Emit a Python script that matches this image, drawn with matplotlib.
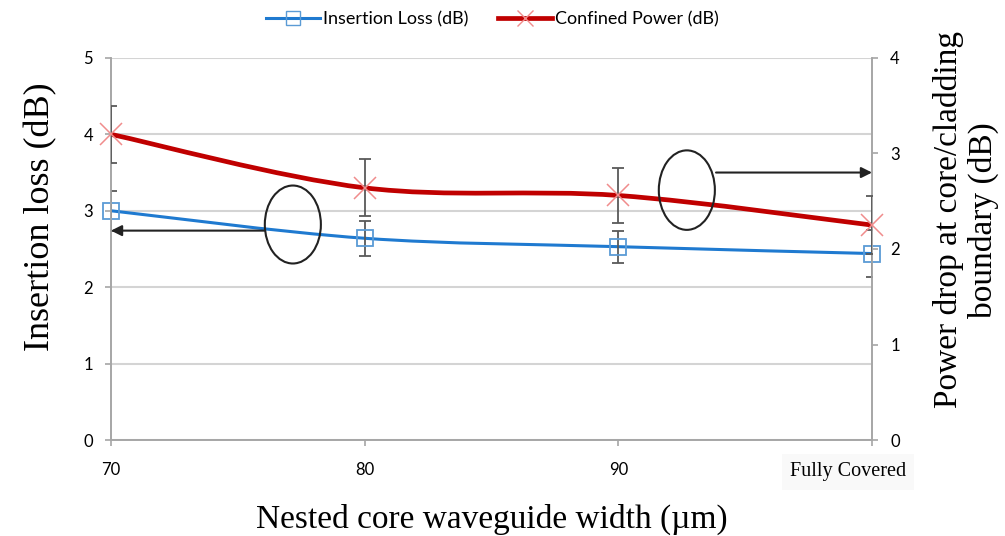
import matplotlib.pyplot as plt
import numpy as np
from matplotlib.path import Path
from matplotlib.patches import PathPatch, Ellipse
from matplotlib.lines import Line2D
import matplotlib.transforms as mtransforms

# Data
categories = ['70', '80', '90', 'Fully Covered']
insertion_loss = [3.0, 2.64, 2.53, 2.44]       # left axis (dB)
insertion_err = [0.26, 0.23, 0.21, 0.31]
confined_power = [3.2, 2.64, 2.56, 2.25]       # right axis (dB)
confined_err = [0.30, 0.30, 0.29, 0.30]

BLUE = '#1f7ad0'
BLUE_MK = '#5b9bd5'
RED = '#c00000'
RED_MK = '#f08c8c'
GRID = '#d4d4d4'
SPINE = '#a6a6a6'
ERR = '#595959'


def smooth_path(x, y):
    # Excel style smoothed line: cubic bezier through every point
    pts = np.column_stack([x, y]).astype(float)
    n = len(pts)
    verts = [pts[0]]
    codes = [Path.MOVETO]
    for i in range(n - 1):
        p0 = pts[max(i - 1, 0)]
        p1 = pts[i]
        p2 = pts[i + 1]
        p3 = pts[min(i + 2, n - 1)]
        verts += [p1 + (p2 - p0) / 6, p2 - (p3 - p1) / 6, p2]
        codes += [Path.CURVE4] * 3
    return Path(verts, codes)


x = np.arange(len(categories))

fig = plt.figure(figsize=(10.05, 5.36), dpi=100)
ax = fig.add_axes([0.1104, 0.179, 0.7573, 0.713])
ax2 = ax.twinx()

ax.set_xlim(0, 3)
ax.set_ylim(0, 5)
ax2.set_ylim(0, 4)

ax.set_yticks(range(6))
ax2.set_yticks(range(5))
ax.set_xticks(x)
ax.set_xticklabels(categories)

ax.grid(axis='y', color=GRID, lw=1.5)
ax.set_axisbelow(True)
for a in (ax, ax2):
    for s in a.spines.values():
        s.set_color(SPINE)
        s.set_linewidth(1.2)
    a.spines['top'].set_visible(False)
    a.tick_params(colors=SPINE, length=4, width=1.2, labelcolor='black',
                  labelsize=12, pad=9)
    for lab in a.get_yticklabels():
        lab.set_family('Lato')
ax.tick_params(axis='x', pad=12)
for lab in ax.get_xticklabels():
    lab.set_family('Lato')

# last category label is a serif text box, shifted left
fc = ax.get_xticklabels()[-1]
fc.set_family('Liberation Serif')
fc.set_fontsize(14.5)
fc.set_bbox(dict(facecolor='#f9f9f9', edgecolor='none', pad=6))
fc.set_transform(fc.get_transform() + mtransforms.ScaledTranslation(-24 / 100, 0, fig.dpi_scale_trans))

# insertion loss (left axis)
ax.add_patch(PathPatch(smooth_path(x, insertion_loss), fill=False, ec=BLUE, lw=2.2, zorder=3))
ax.errorbar(x, insertion_loss, yerr=insertion_err, fmt='none', ecolor=ERR,
            elinewidth=1.3, capsize=4, capthick=1.3, zorder=4)
ax.plot(x, insertion_loss, ls='none', marker='s', ms=12, mfc='none',
        mec=BLUE_MK, mew=1.3, zorder=5, clip_on=False)

# confined power (right axis)
ax2.add_patch(PathPatch(smooth_path(x, confined_power), fill=False, ec=RED, lw=3.4, zorder=3))
ax2.errorbar(x, confined_power, yerr=confined_err, fmt='none', ecolor=ERR,
             elinewidth=1.3, capsize=4, capthick=1.3, zorder=4)
ax2.plot(x, confined_power, ls='none', marker='x', ms=16, mec=RED_MK,
         mew=1.1, zorder=5, clip_on=False)

# ellipses with arrows pointing to the matching axis
ax2.add_patch(Ellipse((0.717, 2.82), 0.221, 1.02, transform=ax.transData,
                      fill=False, ec='#222222', lw=1.5, zorder=6))
ax2.annotate('', xy=(0.0, 2.74), xytext=(0.607, 2.74), xycoords=ax.transData,
             textcoords=ax.transData,
             arrowprops=dict(arrowstyle='-|>', color='#222222', lw=1.5,
                             mutation_scale=16, shrinkA=0, shrinkB=0), zorder=6)
ax2.add_patch(Ellipse((2.27, 3.27), 0.221, 1.04, transform=ax.transData,
                      fill=False, ec='#222222', lw=1.5, zorder=6))
ax2.annotate('', xy=(3.0, 3.50), xytext=(2.385, 3.50), xycoords=ax.transData,
             textcoords=ax.transData,
             arrowprops=dict(arrowstyle='-|>', color='#222222', lw=1.5,
                             mutation_scale=16, shrinkA=0, shrinkB=0), zorder=6)

ax.set_ylabel('Insertion loss (dB)', family='Liberation Serif', fontsize=26)
ax.yaxis.set_label_coords(-0.071, 0.584)
ax2.set_ylabel('Power drop at core/cladding\nboundary (dB)', family='Liberation Serif',
               fontsize=24, linespacing=1.15)
ax2.yaxis.set_label_coords(1.080, 0.576)
ax.set_xlabel('Nested core waveguide width (\u00b5m)', family='Liberation Serif',
              fontsize=24, labelpad=16)

handles = [
    Line2D([], [], color=BLUE, lw=2.2, marker='s', ms=10, mfc='none', mec=BLUE_MK),
    Line2D([], [], color=RED, lw=3.4, marker='x', ms=12, mec=RED_MK),
]
fig.legend(handles, ['Insertion Loss (dB)', 'Confined Power (dB)'], loc='upper center',
           bbox_to_anchor=(0.490, 1.01), ncol=2, frameon=False, handlelength=3.0,
           handletextpad=0.2, columnspacing=1.6, prop={'family': 'Lato', 'size': 13})

plt.savefig('out.png', dpi=100)
